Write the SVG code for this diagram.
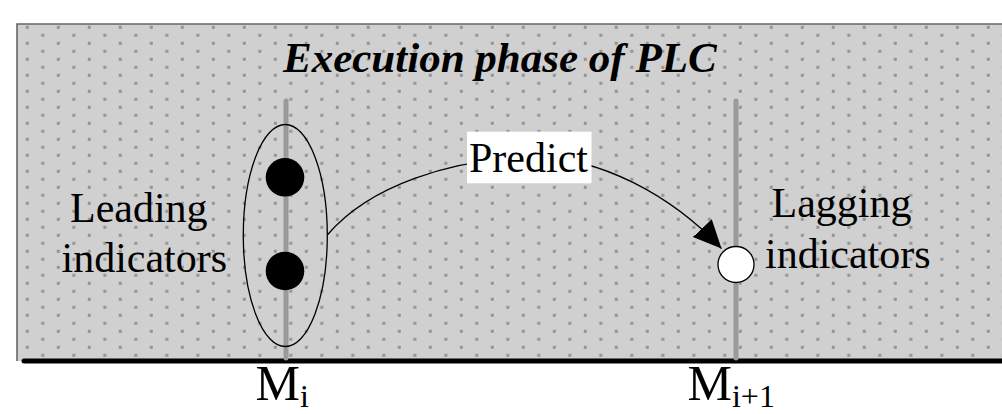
<svg xmlns="http://www.w3.org/2000/svg" width="1002" height="414" viewBox="0 0 1002 414">
  <style>
    text { font-family: "Liberation Serif", "DejaVu Serif", serif; fill: #000; }
    .label { font-size: 42px; }
    .title { font-size: 43px; font-weight: bold; font-style: italic; }
    .axis { font-size: 50px; }
    .sub { font-size: 32px; }
    .marker-line { stroke: #9a9a9a; stroke-width: 5; stroke-linecap: round; fill: none; }
    .thin { stroke: #000; stroke-width: 1.3; fill: none; }
  </style>
  <defs>
    <!-- stippled fill of the execution-phase area -->
    <pattern id="dots" patternUnits="userSpaceOnUse" x="25.8" y="25.8" width="31" height="16">
      <rect x="0" y="0" width="3" height="3" fill="#949494"/>
      <rect x="15.5" y="8" width="3" height="3" fill="#949494"/>
    </pattern>
    <marker id="arrow" markerUnits="userSpaceOnUse" markerWidth="30" markerHeight="28" refX="28" refY="13" orient="auto">
      <path d="M0,0 L28,13 L0,26 z" fill="#000"/>
    </marker>
  </defs>

  <!-- execution phase panel -->
  <g id="phase">
    <rect x="17" y="24" width="990" height="337" fill="#d0d0d0"/>
    <rect x="17" y="24" width="990" height="337" fill="url(#dots)"/>
    <path d="M17,361 V24 H1002" stroke="#666" stroke-width="1.6" fill="none"/>
    <line x1="24" y1="361" x2="1002" y2="361" stroke="#000" stroke-width="5" stroke-linecap="round"/>
    <text class="title" x="283" y="71.5" font-family="Liberation Serif, serif">Execution phase of PLC</text>
  </g>

  <!-- time markers -->
  <g id="marker-i">
    <line class="marker-line" x1="286" y1="101" x2="286" y2="358"/>
    <text class="axis" x="255.5" y="400" font-family="Liberation Serif, serif">M<tspan class="sub" dy="7">i</tspan></text>
  </g>
  <g id="marker-i1">
    <line class="marker-line" x1="736" y1="101" x2="736" y2="358"/>
    <text class="axis" x="687.5" y="400" font-family="Liberation Serif, serif">M<tspan class="sub" dy="7">i+1</tspan></text>
  </g>

  <!-- leading indicators -->
  <g id="leading">
    <ellipse class="thin" cx="285.3" cy="235.5" rx="42" ry="111"/>
    <circle cx="285" cy="177.3" r="19.3" fill="#000"/>
    <circle cx="285" cy="271" r="19.3" fill="#000"/>
    <text class="label" x="70" y="221.5" font-family="Liberation Serif, serif">Leading</text>
    <text class="label" x="61.5" y="271.5" font-family="Liberation Serif, serif">indicators</text>
  </g>

  <!-- lagging indicators -->
  <g id="lagging">
    <circle cx="736" cy="264.5" r="18" fill="#fff" stroke="#000" stroke-width="1.3"/>
    <text class="label" x="771.5" y="217" font-family="Liberation Serif, serif">Lagging</text>
    <text class="label" x="765" y="268" font-family="Liberation Serif, serif">indicators</text>
  </g>

  <!-- prediction connector -->
  <g id="connectors">
    <path class="thin" d="M327.3,235 C370,185 450,160 530,157 C600,156 672,196 721.5,248.5" marker-end="url(#arrow)"/>
    <g id="predict-label">
      <rect x="467" y="131.7" width="124.5" height="51.6" fill="#fff"/>
      <text class="label" x="469" y="171.5" font-family="Liberation Serif, serif">Predict</text>
    </g>
  </g>
</svg>
